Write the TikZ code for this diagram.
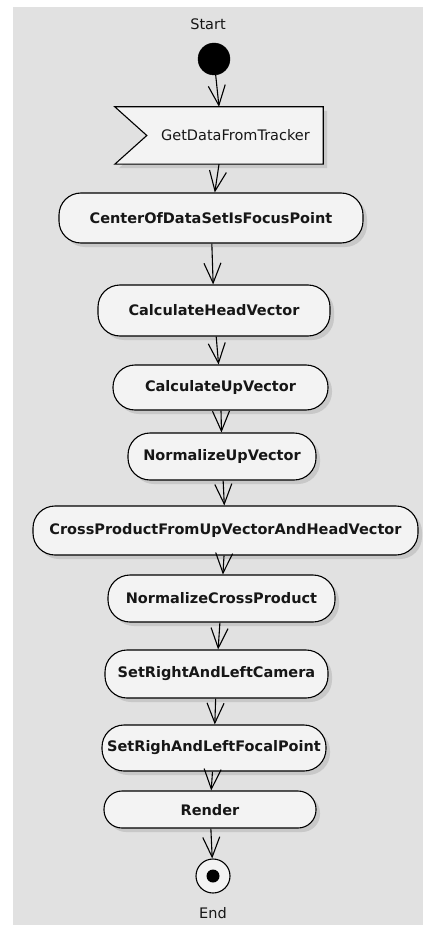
\documentclass[tikz,border=0pt]{standalone}
\usepackage{fontspec}
\setmainfont{DejaVu Sans}
\usetikzlibrary{arrows.meta,shadows,calc}
\definecolor{canvasgrey}{HTML}{E1E1E1}
\definecolor{boxfill}{HTML}{F3F3F3}
\definecolor{shadowgrey}{HTML}{C8C8C8}
\definecolor{inkcolor}{HTML}{161616}
\begin{document}
\begin{tikzpicture}[x=1pt,y=-1pt,
  boxshadow/.style={drop shadow={shadow xshift=4pt,shadow yshift=-4pt,fill=shadowgrey,opacity=1}},
  activity/.style={draw=black, line width=1.1pt, fill=boxfill, rounded corners=22pt,
    font=\bfseries\fontsize{14.5}{17}\selectfont, text=inkcolor, inner sep=0pt,
    boxshadow},
  plainlabel/.style={font=\fontsize{14.5}{17}\selectfont, text=inkcolor, inner sep=0pt},
  flow/.style={draw=black, line width=1.1pt, -{Straight Barb[length=20pt,width=17pt,line width=1.1pt]}},
]
\useasboundingbox (0,0) rectangle (423,925);
\fill[canvasgrey] (13,7) rectangle (423,925);

% initial node
\node[plainlabel] (startlbl) at (208,24) {Start};
\node[circle, fill=black, draw=black, minimum size=32pt, inner sep=0pt] (start) at (214,59) {};

% signal-receipt box
\node[minimum width=208pt, minimum height=57pt, inner sep=0pt] (getdata) at (219,135.5) {};
\draw[draw=black, line width=1.1pt, fill=boxfill, boxshadow]
  (getdata.north west) -- (getdata.north east) -- (getdata.south east)
  -- (getdata.south west) -- ($(getdata.west)+(32,0)$) -- cycle;
\node[plainlabel] (getdatatext) at (235.5,135) {GetDataFromTracker};

% actions
\node[activity, minimum width=304pt, minimum height=50pt] (center) at (211,218) {CenterOfDataSetIsFocusPoint};
\node[activity, minimum width=232pt, minimum height=51pt] (head) at (214,310.5) {CalculateHeadVector};
\node[activity, minimum width=215pt, minimum height=45pt] (up) at (220.5,387.5) {CalculateUpVector};
\node[activity, minimum width=188pt, minimum height=47pt] (normup) at (222,456.5) {NormalizeUpVector};
\node[activity, minimum width=385pt, minimum height=49pt] (cross) at (225.5,530.5) {CrossProductFromUpVectorAndHeadVector};
\node[activity, minimum width=227pt, minimum height=47pt] (normcross) at (221.5,598.5) {NormalizeCrossProduct};
\node[activity, minimum width=223pt, minimum height=48pt] (camera) at (216.5,674) {SetRightAndLeftCamera};
\node[activity, minimum width=224pt, minimum height=46pt] (focal) at (214,748) {SetRighAndLeftFocalPoint};
\node[activity, rounded corners=18pt, minimum width=212pt, minimum height=37pt, text depth=-6pt] (render) at (210,809.5) {Render};

% final node
\node[circle, draw=black, line width=1.1pt, fill=boxfill, minimum size=34pt, inner sep=0pt] (final) at (213,876) {};
\fill[black] (final.center) circle (6.5pt);
\node[plainlabel] (endlbl) at (213,913) {End};

% control flow
\draw[flow] (start) -- (getdata.north);
\draw[flow] (getdata.south) -- (center);
\draw[flow] (center) -- (head);
\draw[flow] (head) -- (up);
\draw[flow] (up) -- (normup);
\draw[flow] (normup) -- (cross);
\draw[flow] (cross) -- (normcross);
\draw[flow] (normcross) -- (camera);
\draw[flow] (camera) -- (focal);
\draw[flow] (focal) -- (render);
\draw[flow] (render) -- (final);
\end{tikzpicture}
\end{document}
